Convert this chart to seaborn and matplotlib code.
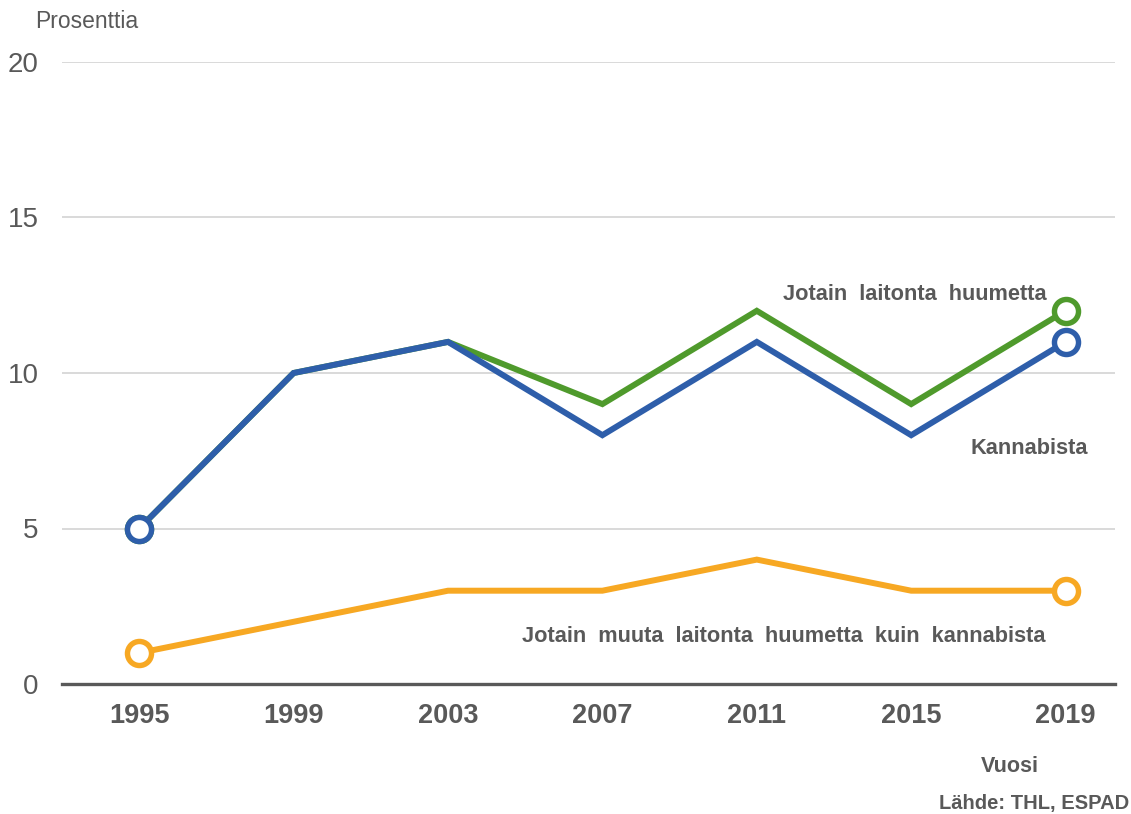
import matplotlib
matplotlib.use("Agg")
import matplotlib.pyplot as plt
import seaborn as sns
import pandas as pd

years = ["1995", "1999", "2003", "2007", "2011", "2015", "2019"]
any_drug = [5, 10, 11, 9, 12, 9, 12]
cannabis = [5, 10, 11, 8, 11, 8, 11]
other_drug = [1, 2, 3, 3, 4, 3, 3]
y_ticks = [0, 5, 10, 15, 20]

GREEN = "#4F9A2C"
BLUE = "#2E5EAA"
ORANGE = "#F7A823"
TEXT = "#595959"

sns.set_theme(style="white")
plt.rcParams['font.family'] = ['Liberation Sans', 'DejaVu Sans']

fig = plt.figure(figsize=(11.31, 8.14), dpi=100)
ax = fig.add_axes([62/1131, 130/814, (1115-62)/1131, (684-62)/814])

series = [("Jotain laitonta huumetta", any_drug, GREEN),
          ("Jotain muuta", other_drug, ORANGE),
          ("Kannabista", cannabis, BLUE)]

for i, (name, vals, col) in enumerate(series):
    df = pd.DataFrame({"x": range(len(years)), "y": vals})
    sns.lineplot(data=df, x="x", y="y", color=col, linewidth=4.3, ax=ax,
                 zorder=3 + i, solid_joinstyle="miter", solid_capstyle="butt")
for i, (name, vals, col) in enumerate(series):
    df = pd.DataFrame({"x": [0, len(years) - 1], "y": [vals[0], vals[-1]]})
    sns.scatterplot(data=df, x="x", y="y", ax=ax, s=300, facecolor="white",
                    edgecolor=col, linewidth=3.9, zorder=10 + i)

ax.set_xlim(-0.5, 6.32)
ax.set_ylim(0, 20)
ax.set_yticks(y_ticks)
ax.set_yticklabels([str(t) for t in y_ticks], fontsize=20, color=TEXT)
ax.set_xticks(range(len(years)))
ax.set_xticklabels(years, fontsize=19.5, fontweight="bold", color=TEXT)
ax.tick_params(axis="both", length=0)
ax.tick_params(axis="x", pad=14)
ax.tick_params(axis="y", pad=17)
ax.set_xlabel("")
ax.set_ylabel("")
ax.grid(axis="y", color="#D9D9D9", linewidth=1.4)
ax.set_axisbelow(True)
for s in ["left", "right", "top"]:
    ax.spines[s].set_visible(False)
ax.spines["bottom"].set_color(TEXT)
ax.spines["bottom"].set_linewidth(2.4)
ax.spines["bottom"].set_zorder(20)

fig.text(35/1131, 1 - 22/814, "Prosenttia", fontsize=16.5, color=TEXT, va="center", ha="left")
fig.text(1047/1131, 1 - 295/814, "Jotain  laitonta  huumetta", fontsize=15.7,
         fontweight="bold", color=TEXT, va="center", ha="right")
fig.text(1088/1131, 1 - 448/814, "Kannabista", fontsize=15.7,
         fontweight="bold", color=TEXT, va="center", ha="right")
fig.text(1045/1131, 1 - 636/814, "Jotain  muuta  laitonta  huumetta  kuin  kannabista",
         fontsize=15.7, fontweight="bold", color=TEXT, va="center", ha="right")
fig.text(1010/1131, 1 - 767/814, "Vuosi", fontsize=15.5, fontweight="bold",
         color=TEXT, va="center", ha="center")
fig.text(1129/1131, 1 - 803/814, "Lähde: THL, ESPAD", fontsize=14.5, fontweight="bold",
         color=TEXT, va="center", ha="right")

fig.savefig("out.png", dpi=100, facecolor="white")
